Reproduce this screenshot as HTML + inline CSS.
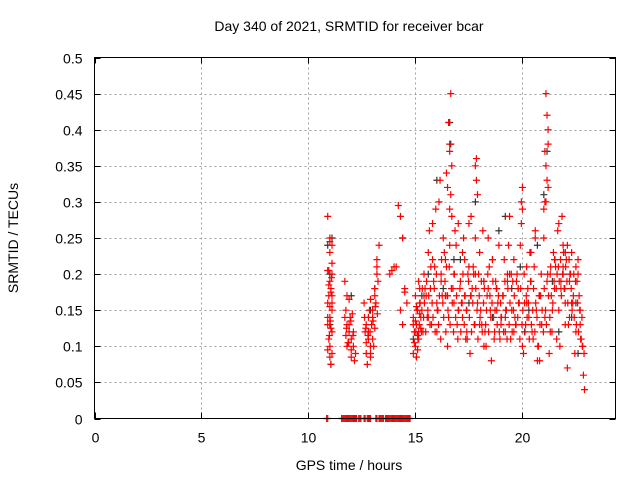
<!DOCTYPE html>
<html><head><meta charset="utf-8"><style>
body{margin:0;background:#fff}
svg{display:block;font-family:"Liberation Sans",sans-serif}
</style></head><body>
<svg id="chart" width="640" height="480" viewBox="0 0 640 480">
<rect width="640" height="480" fill="#fff"/>
<text x="349" y="31" font-size="14" text-anchor="middle" fill="#000">Day 340 of 2021, SRMTID for receiver bcar</text>
<text x="349" y="470" font-size="14" text-anchor="middle">GPS time / hours</text>
<text transform="translate(18,238) rotate(-90)" font-size="14" text-anchor="middle">SRMTID / TECUs</text>
<g id="grid"></g><g id="ticks"></g><g id="marks"></g>
<rect x="94.5" y="57.5" width="521" height="361" fill="none" stroke="#000" stroke-width="1"/>
</svg>
<script>
const xTicks=[0,5,10,15,20];
const yTicks=[0,0.05,0.1,0.15,0.2,0.25,0.3,0.35,0.4,0.45,0.5];
const yTickLabels=["0","0.05","0.1","0.15","0.2","0.25","0.3","0.35","0.4","0.45","0.5"];
const redHours=[10.9,11.0,11.1,11.0,10.9,11.1,11.0,10.95,11.05,11.1,10.9,11.0,11.1,11.0,10.9,11.05,11.1,10.95,11.0,11.1,10.9,11.0,11.05,11.1,10.95,11.0,10.9,11.1,
11.7,11.75,11.8,11.9,11.95,12.0,12.1,12.2,11.8,11.9,12.0,12.1,11.75,11.85,12.05,12.15,11.7,11.9,12.0,11.8,
12.6,12.7,12.8,12.9,13.0,13.1,13.2,13.3,12.7,12.8,12.9,13.0,13.1,13.2,12.65,12.75,12.85,12.95,13.05,13.15,13.25,12.8,12.9,13.0,13.1,13.2,12.7,12.9,
13.8,14.0,14.2,14.3,14.4,14.5,14.6,14.3,14.4,14.1,14.5,13.9,
14.9,14.95,15.0,15.05,15.1,15.15,15.2,15.25,14.9,15.0,15.1,15.2,14.95,15.05,15.15,15.25,15.0,15.1,15.2,14.9,15.05,15.15,
15.3,15.4,15.5,15.6,15.7,15.8,15.9,16.0,16.1,16.2,16.3,16.4,16.5,16.6,16.7,16.8,16.9,17.0,15.35,15.45,15.55,15.65,15.75,15.85,15.95,16.05,16.15,16.25,16.35,16.45,16.55,16.65,16.75,16.85,16.95,15.4,15.6,15.8,16.0,16.2,16.4,16.6,16.8,17.0,16.5,16.55,16.6,16.65,16.45,16.7,16.6,16.5,
17.1,17.2,17.3,17.4,17.5,17.6,17.7,17.8,17.9,18.0,18.1,18.2,18.3,18.4,18.5,18.6,18.7,18.8,18.9,19.0,17.15,17.25,17.35,17.45,17.55,17.65,17.75,17.85,17.95,18.05,18.15,18.25,18.35,18.45,18.55,18.65,18.75,18.85,18.95,17.2,17.4,17.6,17.8,18.0,18.2,18.4,18.6,18.8,19.0,17.85,17.9,17.8,17.3,17.5,
19.1,19.2,19.3,19.4,19.5,19.6,19.7,19.8,19.9,20.0,20.1,20.2,20.3,20.4,20.5,20.6,20.7,20.8,20.9,19.15,19.25,19.35,19.45,19.55,19.65,19.75,19.85,19.95,20.05,20.15,20.25,20.35,20.45,20.55,20.65,20.75,20.85,19.2,19.4,19.6,19.8,20.0,20.2,20.4,20.6,20.8,19.95,20.0,19.3,
21.0,21.05,21.1,21.15,21.2,21.0,21.1,21.2,21.3,21.4,21.5,21.6,21.7,21.8,21.9,22.0,22.1,22.2,22.3,22.4,22.5,22.6,22.7,21.05,21.15,21.25,21.35,21.45,21.55,21.65,21.75,21.85,21.95,22.05,22.15,22.25,22.35,22.45,22.55,22.65,21.3,21.5,21.7,21.9,22.1,22.3,22.5,22.6,22.7,22.75,22.8,22.0,22.2,21.8,21.1,21.2,21.05,21.15,
15.02,15.08,15.12,15.18,15.22,15.28,15.32,15.38,15.42,15.48,15.52,15.58,15.62,15.68,15.72,15.78,15.82,15.88,15.92,15.98,16.02,16.08,16.12,16.18,16.22,16.28,16.32,16.38,16.42,16.48,16.52,16.58,16.62,16.68,16.72,16.78,16.82,16.88,16.92,16.98,
17.02,17.08,17.12,17.18,17.22,17.28,17.32,17.38,17.42,17.48,17.52,17.58,17.62,17.68,17.72,17.78,17.82,17.88,17.92,17.98,18.02,18.08,18.12,18.18,18.22,18.28,18.32,18.38,18.42,18.48,18.52,18.58,18.62,18.68,18.72,18.78,18.82,18.88,18.92,18.98,
19.02,19.08,19.12,19.18,19.22,19.28,19.32,19.38,19.42,19.48,19.52,19.58,19.62,19.68,19.72,19.78,19.82,19.88,19.92,19.98,20.02,20.08,20.12,20.18,20.22,20.28,20.32,20.38,20.42,20.48,20.52,20.58,20.62,20.68,20.72,20.78,20.82,20.88,20.92,20.98,
21.02,21.08,21.12,21.18,21.22,21.28,21.32,21.38,21.42,21.48,21.52,21.58,21.62,21.68,21.72,21.78,21.82,21.88,21.92,21.98,22.02,22.08,22.12,22.18,22.22,22.28,22.32,22.38,22.42,22.48,22.52,22.58,22.62,22.68,22.72,22.78,22.82,22.88,22.85,22.9,
10.95,11.05,11.02,10.98,11.08,12.62,12.68,12.78,13.02,13.12,13.22,12.88,11.78,11.88,11.98,12.08];
const redValues=[0.28,0.25,0.24,0.23,0.205,0.2,0.19,0.185,0.18,0.17,0.16,0.155,0.15,0.14,0.13,0.125,0.12,0.11,0.1,0.09,0.095,0.085,0.075,0.215,0.17,0.245,0.14,0.16,
0.19,0.15,0.13,0.12,0.14,0.11,0.1,0.09,0.17,0.13,0.095,0.12,0.115,0.105,0.145,0.08,0.14,0.165,0.085,0.1,
0.16,0.13,0.12,0.1,0.15,0.18,0.2,0.24,0.09,0.11,0.085,0.14,0.17,0.22,0.12,0.075,0.15,0.13,0.1,0.16,0.19,0.14,0.165,0.11,0.125,0.21,0.105,0.09,
0.2,0.21,0.295,0.28,0.25,0.18,0.16,0.15,0.13,0.21,0.175,0.205,
0.14,0.12,0.1,0.13,0.15,0.11,0.16,0.125,0.09,0.135,0.115,0.145,0.105,0.155,0.12,0.14,0.17,0.095,0.18,0.13,0.085,0.19,
0.15,0.2,0.17,0.23,0.18,0.27,0.21,0.16,0.3,0.19,0.25,0.22,0.17,0.37,0.28,0.2,0.24,0.15,0.12,0.18,0.14,0.26,0.13,0.19,0.29,0.15,0.33,0.17,0.23,0.21,0.14,0.31,0.18,0.26,0.13,0.17,0.14,0.22,0.12,0.2,0.17,0.24,0.16,0.27,0.1,0.41,0.38,0.45,0.34,0.35,0.29,0.32,
0.19,0.14,0.22,0.12,0.27,0.17,0.21,0.35,0.16,0.23,0.13,0.19,0.1,0.25,0.15,0.22,0.12,0.18,0.24,0.14,0.16,0.25,0.11,0.2,0.09,0.18,0.13,0.33,0.2,0.15,0.26,0.12,0.17,0.21,0.08,0.14,0.19,0.16,0.11,0.23,0.15,0.28,0.2,0.13,0.1,0.18,0.22,0.15,0.13,0.36,0.31,0.25,0.17,0.21,
0.17,0.12,0.2,0.28,0.15,0.22,0.13,0.18,0.24,0.1,0.16,0.21,0.14,0.19,0.11,0.26,0.08,0.17,0.13,0.22,0.15,0.24,0.11,0.19,0.14,0.2,0.16,0.27,0.09,0.13,0.18,0.23,0.12,0.21,0.15,0.1,0.17,0.14,0.2,0.12,0.18,0.32,0.16,0.23,0.25,0.08,0.3,0.29,0.19,
0.29,0.3,0.45,0.42,0.38,0.25,0.35,0.32,0.2,0.15,0.22,0.11,0.27,0.18,0.21,0.13,0.24,0.19,0.16,0.2,0.12,0.22,0.15,0.14,0.19,0.09,0.17,0.23,0.21,0.26,0.1,0.28,0.18,0.22,0.13,0.2,0.16,0.09,0.19,0.17,0.12,0.18,0.15,0.24,0.07,0.23,0.21,0.2,0.13,0.11,0.1,0.16,0.14,0.19,0.3,0.4,0.37,0.33,
0.12,0.15,0.11,0.13,0.16,0.12,0.18,0.14,0.16,0.12,0.19,0.15,0.17,0.13,0.21,0.16,0.14,0.18,0.12,0.2,0.15,0.13,0.17,0.11,0.22,0.16,0.14,0.19,0.12,0.17,0.15,0.21,0.13,0.18,0.16,0.12,0.2,0.14,0.17,0.11,
0.15,0.18,0.12,0.16,0.2,0.13,0.17,0.15,0.11,0.19,0.14,0.17,0.12,0.16,0.2,0.13,0.18,0.15,0.11,0.17,0.14,0.19,0.12,0.16,0.18,0.13,0.15,0.2,0.12,0.17,0.14,0.16,0.19,0.11,0.15,0.18,0.13,0.17,0.12,0.16,
0.14,0.17,0.12,0.19,0.15,0.11,0.18,0.13,0.16,0.2,0.12,0.15,0.17,0.13,0.19,0.14,0.16,0.11,0.18,0.13,0.15,0.2,0.12,0.17,0.14,0.16,0.11,0.19,0.13,0.15,0.18,0.12,0.16,0.14,0.1,0.17,0.13,0.2,0.15,0.12,
0.18,0.15,0.13,0.2,0.17,0.14,0.21,0.12,0.16,0.19,0.22,0.18,0.2,0.21,0.19,0.22,0.17,0.2,0.23,0.18,0.21,0.19,0.16,0.22,0.2,0.18,0.15,0.17,0.14,0.19,0.13,0.16,0.12,0.15,0.11,0.14,0.1,0.09,0.06,0.04,
0.205,0.175,0.135,0.115,0.195,0.14,0.125,0.115,0.135,0.155,0.145,0.12,0.125,0.105,0.135,0.115];
const blackHours=[10.9,11.0,11.05,11.1,12.0,12.9,13.1,14.4,14.9,15.6,16.0,16.3,16.6,16.65,17.1,17.5,17.8,18.2,18.6,19.2,19.5,19.9,20.3,20.7,21.0,21.15,21.4,21.7,22.0,22.3,22.5,11.0,15.3,16.8,18.9,20.1,21.9,22.6];
const blackValues=[0.24,0.2,0.075,0.25,0.17,0.15,0.18,0.25,0.11,0.2,0.33,0.18,0.41,0.38,0.22,0.16,0.3,0.19,0.14,0.28,0.18,0.21,0.15,0.24,0.31,0.37,0.19,0.12,0.23,0.14,0.16,0.13,0.17,0.22,0.26,0.12,0.2,0.09];
const zeroHours=[10.85,10.9,11.55,11.6,11.65,11.7,11.75,11.8,11.85,11.9,11.95,12.0,12.05,12.1,12.15,12.2,12.25,12.35,12.4,12.45,12.6,12.65,12.75,12.8,12.85,12.9,13.15,13.2,13.3,13.35,13.4,13.45,13.5,13.6,13.65,13.7,13.75,13.8,13.85,13.9,13.95,14.0,14.05,14.1,14.15,14.2,14.25,14.3,14.35,14.4,14.45,14.5,14.55,14.6,14.65,14.7,14.75];
const NS="http://www.w3.org/2000/svg";
const L=94.5,R=615.5,T=57.5,B=418.5,XMAX=24.35,YMAX=0.5;
function xs(h){return L+h/XMAX*(R-L);}
function ys(v){return B-v/YMAX*(B-T);}
function mk(tag,at,parent){const e=document.createElementNS(NS,tag);for(const k in at)e.setAttribute(k,at[k]);parent.appendChild(e);return e;}
const grid=document.getElementById('grid'),ticks=document.getElementById('ticks'),marks=document.getElementById('marks');
xTicks.forEach(t=>{const x=Math.round(xs(t))+0.5;
 if(t>0){const g=mk('line',{x1:x,x2:x,y1:T,y2:B,stroke:'#a0a0a0','stroke-dasharray':'2,3'},grid);
 
 }
 mk('line',{x1:x,x2:x,y1:B,y2:B-6,stroke:'#000'},ticks);mk('line',{x1:x,x2:x,y1:T,y2:T+6,stroke:'#000'},ticks);
 const tx=mk('text',{x:x,y:B+24,'font-size':14,'text-anchor':'middle'},ticks);tx.textContent=t;
 
 });
yTicks.forEach((t,i)=>{const y=Math.round(ys(t))+0.5;
 if(i>0&&i<yTicks.length-1){const g=mk('line',{x1:L,x2:R,y1:y,y2:y,stroke:'#a0a0a0','stroke-dasharray':'2,3'},grid);
 
 }
 mk('line',{x1:L,x2:L+6,y1:y,y2:y,stroke:'#000'},ticks);mk('line',{x1:R,x2:R-6,y1:y,y2:y,stroke:'#000'},ticks);
 const tx=mk('text',{x:L-12,y:y+5,'font-size':14,'text-anchor':'end'},ticks);tx.textContent=yTickLabels[i];
 
 });
function plus(h,v,c,name){const x=xs(h),y=ys(v);
 const p=mk('path',{d:`M${x-3.5},${y}H${x+3.5}M${x},${y-3.5}V${y+3.5}`,stroke:c,'stroke-width':1.2,fill:'none'},marks);
 
 }
blackHours.forEach((h,i)=>plus(h,blackValues[i],'#333','black-point'));
redHours.forEach((h,i)=>plus(h,redValues[i],'#ff0000','red-point'));
zeroHours.forEach(h=>plus(h,0,'#ff0000','zero-point'));
</script>
</body></html>
